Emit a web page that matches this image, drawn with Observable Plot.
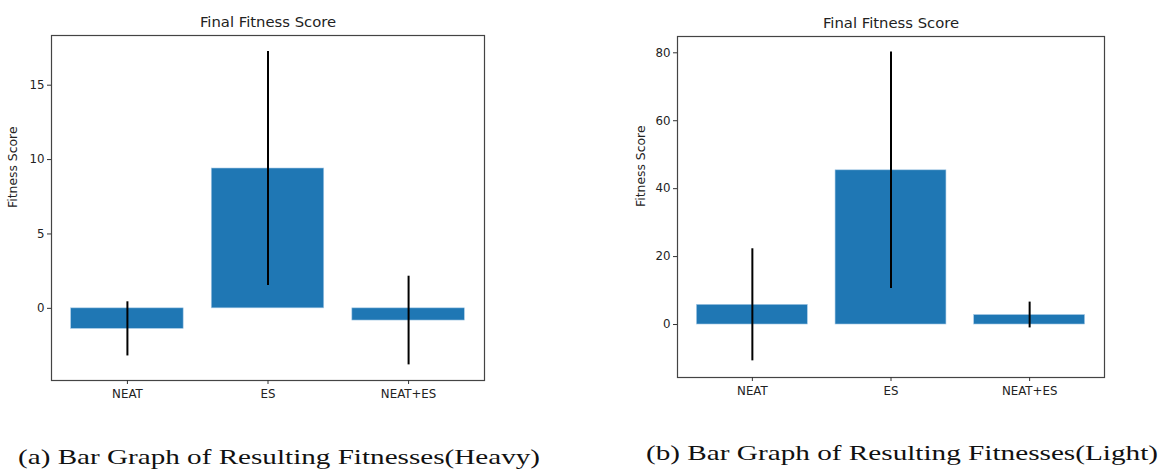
<!DOCTYPE html>
<html>
<head>
<meta charset="utf-8">
<script src="https://cdn.jsdelivr.net/npm/d3@7"></script>
<script src="https://cdn.jsdelivr.net/npm/@observablehq/plot@0.6"></script>
<style>
  html, body { margin: 0; padding: 0; background: #fff; }
  #root { position: relative; width: 1160px; height: 471px; overflow: hidden; font-family: "DejaVu Sans", sans-serif; }
  .panel { position: absolute; top: 0; }
  .cap { position: absolute; left: 0; top: 0; }
</style>
</head>
<body>
<div id="root">
  <div id="left" class="panel" style="left:0px"></div>
  <div id="right" class="panel" style="left:600px"></div>
  <svg class="cap" width="1160" height="471">
    <text x="18" y="464" font-family="Liberation Serif, serif" font-size="22" fill="#111" textLength="522" lengthAdjust="spacingAndGlyphs">(a) Bar Graph of Resulting Fitnesses(Heavy)</text>
    <text x="646" y="460" font-family="Liberation Serif, serif" font-size="22" fill="#111" textLength="512" lengthAdjust="spacingAndGlyphs">(b) Bar Graph of Resulting Fitnesses(Light)</text>
  </svg>
</div>
<script>
const categories = ["NEAT", "ES", "NEAT+ES"];
// Heavy
const heavyMean = [-1.38, 9.40, -0.82];
const heavyErr  = [1.82, 7.87, 2.98];
const heavyTicks = [0, 5, 10, 15];
// Light
const lightMean = [5.8, 45.4, 2.8];
const lightErr  = [16.5, 34.8, 3.8];
const lightTicks = [0, 20, 40, 60, 80];

const title = "Final Fitness Score";
const yLabel = "Fitness Score";

function chart({mean, err, ticks, domain, margins}) {
  const data = categories.map((c, i) => ({cat: c, v: mean[i], lo: mean[i] - err[i], hi: mean[i] + err[i]}));
  return Plot.plot({
    width: 560,
    height: 410,
    marginLeft: margins[0],
    marginRight: margins[1],
    marginTop: margins[2],
    marginBottom: margins[3],
    style: {fontFamily: "DejaVu Sans, sans-serif", fontSize: "11.8px", color: "#222", background: "white"},
    x: {domain: categories, paddingInner: 0.2, paddingOuter: 0.14, round: false},
    y: {domain, ticks},
    marks: [
      Plot.barY(data, {x: "cat", y1: 0, y2: "v", fill: "#1f77b4", stroke: "#a8cbe6", strokeWidth: 0.6}),
      Plot.ruleX(data, {x: "cat", y1: "lo", y2: "hi", stroke: "black", strokeWidth: 2}),
      Plot.frame({stroke: "#444", strokeWidth: 1.2}),
      Plot.axisX({tickSize: 4, tickPadding: 5, label: null, fontSize: 11.8, stroke: "#333"}),
      Plot.axisY({ticks, tickSize: 4, tickPadding: 3, label: null, fontSize: 11.8, stroke: "#333"}),
      Plot.text([title], {frameAnchor: "top", lineAnchor: "bottom", dy: -8.5, fontSize: 14.8, fill: "#222"}),
      Plot.text([yLabel], {frameAnchor: "left", rotate: -90, dx: margins[4], fontSize: 12.4, fill: "#222"})
    ]
  });
}

document.getElementById("left").appendChild(chart({
  mean: heavyMean, err: heavyErr, ticks: heavyTicks,
  domain: [-4.85, 18.34], margins: [51, 76, 35, 30, -38]
}));
document.getElementById("right").appendChild(chart({
  mean: lightMean, err: lightErr, ticks: lightTicks,
  domain: [-15.6, 84.8], margins: [77, 56, 36, 33, -36.5]
}));
</script>
</body>
</html>
